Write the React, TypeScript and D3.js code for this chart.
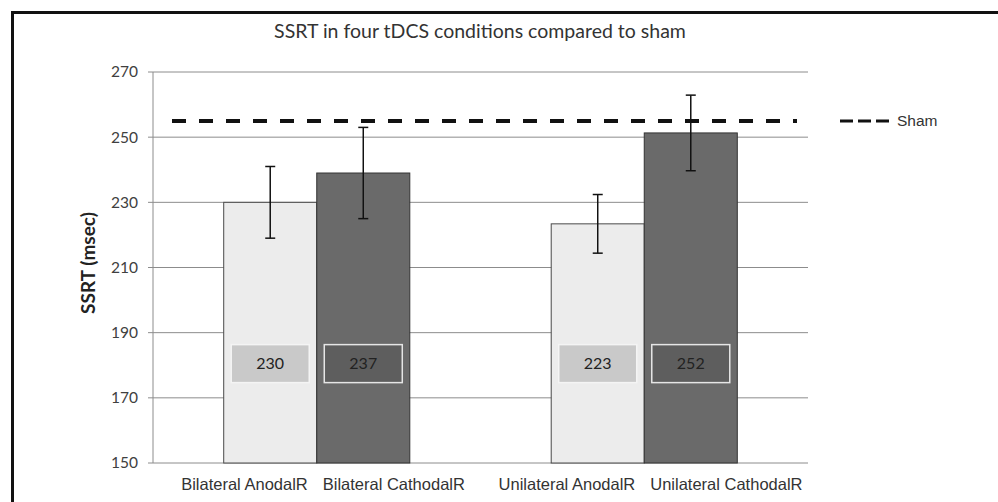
import React from 'react';
import * as d3 from 'd3';

const groups = ['Bilateral', 'Unilateral'];
const conditions = ['AnodalR', 'CathodalR'];
const xLabels = ['Bilateral AnodalR', 'Bilateral CathodalR', 'Unilateral AnodalR', 'Unilateral CathodalR'];
const means = [230, 239, 223.4, 251.3];
const errors = [11, 14, 9, 11.6];
const valueLabels = ['230', '237', '223', '252'];
const shamValue = 255;
const yTicks = [150, 170, 190, 210, 230, 250, 270];

const settings = {
  width: 998,
  height: 502,
  left: 153,
  right: 808,
  top: 72,
  bottom: 463
};

const fills = ['#ececec', '#6a6a6a'];
const strokes = ['#4a4a4a', '#333333'];
const boxFills = ['#c9c9c9', '#5e5e5e'];
const boxStrokes = ['#f4f4f4', '#e6e6e6'];

export default function App() {
  const { width, height, left, right, top, bottom } = settings;

  const y = d3.scaleLinear().domain([150, 270]).range([bottom, top]);
  const x0 = d3.scaleBand().domain(groups).range([left, right]);
  const x1 = d3.scaleBand().domain(conditions).range([0, x0.bandwidth()])
    .paddingInner(0).paddingOuter(0.76);

  const bars = means.map((m, i) => {
    const g = groups[Math.floor(i / 2)];
    const c = conditions[i % 2];
    const x = (x0(g) as number) + (x1(c) as number);
    return { x, w: x1.bandwidth(), m, e: errors[i], s: i % 2, label: valueLabels[i], name: xLabels[i] };
  });

  const font = "Lato, 'Open Sans', sans-serif";
  const armFont = "'Liberation Sans', Arial, sans-serif";

  return (
    <svg width={width} height={height} style={{ position: 'absolute', left: 0, top: 0, background: '#fff' }}>
      <rect x={12.5} y={12.5} width={1000} height={600} fill="white" stroke="#111" strokeWidth={3} />

      <text x={480} y={38} textAnchor="middle" fontFamily={font} fontSize={19.5} fill="#333">
        SSRT in four tDCS conditions compared to sham
      </text>

      {/* gridlines */}
      {yTicks.filter(t => t > 150).map(t => (
        <line key={t} x1={left} x2={right} y1={y(t)} y2={y(t)} stroke="#8c8c8c" strokeWidth={1} />
      ))}
      {/* axis */}
      <line x1={left} x2={left} y1={top} y2={bottom} stroke="#8c8c8c" />
      <line x1={left} x2={right} y1={bottom} y2={bottom} stroke="#8c8c8c" />
      {yTicks.map(t => (
        <g key={'t' + t}>
          <line x1={left - 5} x2={left} y1={y(t)} y2={y(t)} stroke="#8c8c8c" />
          <text x={138} y={y(t)} dy="0.35em" textAnchor="end" fontFamily={font} fontSize={15.5} fill="#404040">{t}</text>
        </g>
      ))}

      <text transform={`translate(95,263) rotate(-90)`} textAnchor="middle"
        fontFamily={font} fontSize={19} fontWeight={700} fill="#222">SSRT (msec)</text>

      {bars.map((b, i) => (
        <rect key={'b' + i} x={b.x} y={y(b.m)} width={b.w} height={bottom - y(b.m)} fill={fills[b.s]} stroke={strokes[b.s]} strokeWidth={1} />
      ))}

      {/* sham line */}
      <line x1={172} x2={797} y1={y(shamValue)} y2={y(shamValue)} stroke="#111" strokeWidth={4} strokeDasharray="14 13" />

      {bars.map((b, i) => {
        const cx = b.x + b.w / 2;
        return (
          <g key={'e' + i} stroke="#111" strokeWidth={1.5}>
            <line x1={cx} x2={cx} y1={y(b.m + b.e)} y2={y(b.m - b.e)} />
            <line x1={cx - 5} x2={cx + 5} y1={y(b.m + b.e)} y2={y(b.m + b.e)} />
            <line x1={cx - 5} x2={cx + 5} y1={y(b.m - b.e)} y2={y(b.m - b.e)} />
          </g>
        );
      })}

      {bars.map((b, i) => {
        const cx = b.x + b.w / 2;
        const cy = y(180.5);
        return (
          <g key={'l' + i}>
            <rect x={cx - 39} y={cy - 19} width={78} height={38} fill={boxFills[b.s]} stroke={boxStrokes[b.s]} strokeWidth={1.5} />
            <text x={cx} y={cy} dy="0.35em" textAnchor="middle" fontFamily={font} fontSize={16} fill="#222">{b.label}</text>
          </g>
        );
      })}

      {bars.map((b, i) => {
        // anodal labels end at the shared bar edge, cathodal ones start there
        const edge = b.s === 0 ? b.x + b.w - 9 : b.x + 6;
        return (
          <text key={'x' + i} x={edge} y={490} textAnchor={b.s === 0 ? 'end' : 'start'}
            fontFamily={armFont} fontSize={16.5} fill="#333">{b.name}</text>
        );
      })}

      {/* legend */}
      <line x1={840} x2={890} y1={y(shamValue)} y2={y(shamValue)} stroke="#111" strokeWidth={3} strokeDasharray="13 5" />
      <text x={897} y={y(shamValue)} dy="0.36em" fontFamily={armFont} fontSize={15.5} fill="#333">Sham</text>
    </svg>
  );
}
